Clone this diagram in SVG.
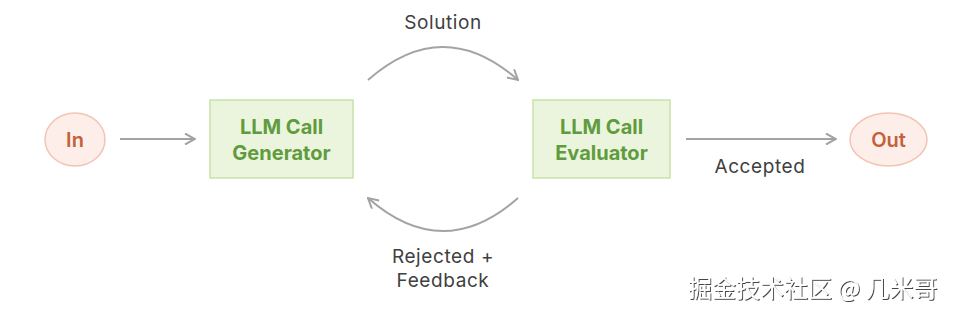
<svg xmlns="http://www.w3.org/2000/svg" width="961" height="314" viewBox="0 0 961 314">
<style>
.term{fill:#fdeee9;stroke:#f2c4b4;stroke-width:1.5}
.termt{font-family:Inter,"Open Sans",sans-serif;font-size:20px;font-weight:600;fill:#c4603a;text-anchor:middle}
.box{fill:#ebf5de;stroke:#c8e2aa;stroke-width:1.5}
.boxt{font-family:Inter,"Open Sans",sans-serif;font-size:20px;font-weight:700;fill:#609b3d;text-anchor:middle}
.lbl{font-family:Inter,"Open Sans",sans-serif;font-size:19px;fill:#404040;text-anchor:middle;letter-spacing:0.6px}
.edge{fill:none;stroke:#a3a3a3;stroke-width:2;marker-end:url(#ah)}
.wm{font-family:"Noto Sans CJK SC",sans-serif;font-size:24px;fill:#ffffff;filter:url(#sh)}
</style>
<defs>
<marker id="ah" viewBox="0 0 12 12" refX="11" refY="6" markerWidth="12" markerHeight="12" markerUnits="userSpaceOnUse" orient="auto">
<path d="M1,0.5 L11,6 L1,11.5" fill="none" stroke="#a3a3a3" stroke-width="2"/>
</marker>
<filter id="sh" x="-5%" y="-20%" width="110%" height="140%">
<feDropShadow dx="1" dy="1" stdDeviation="0.6" flood-color="#444"/>
</filter>
</defs>
<g id="connectors">
<path class="edge" d="M120,139 L195,139"/>
<path class="edge" d="M686,139 L836,139"/>
<path class="edge" d="M368,80 Q443,14 518,80"/>
<path class="edge" d="M518,198 Q443,264 368,198"/>
<text class="lbl" x="443" y="29">Solution</text>
<text class="lbl" x="760" y="173">Accepted</text>
<text class="lbl" x="443" y="263">Rejected +</text>
<text class="lbl" x="443" y="287">Feedback</text>
</g>
<g id="in">
<ellipse class="term" cx="75" cy="139.5" rx="30" ry="26.5"/>
<text class="termt" x="75" y="146.5">In</text>
</g>
<g id="generator">
<rect class="box" x="210" y="100" width="143" height="78"/>
<text class="boxt" x="281.5" y="134">LLM Call</text>
<text class="boxt" x="281.5" y="160">Generator</text>
</g>
<g id="evaluator">
<rect class="box" x="533" y="100" width="137" height="78"/>
<text class="boxt" x="601.5" y="134">LLM Call</text>
<text class="boxt" x="601.5" y="160">Evaluator</text>
</g>
<g id="out">
<ellipse class="term" cx="888.5" cy="139.5" rx="38.5" ry="26.5"/>
<text class="termt" x="888.5" y="146.5">Out</text>
</g>
<text class="wm" x="688" y="297">掘金技术社区 @ 几米哥</text>
</svg>
